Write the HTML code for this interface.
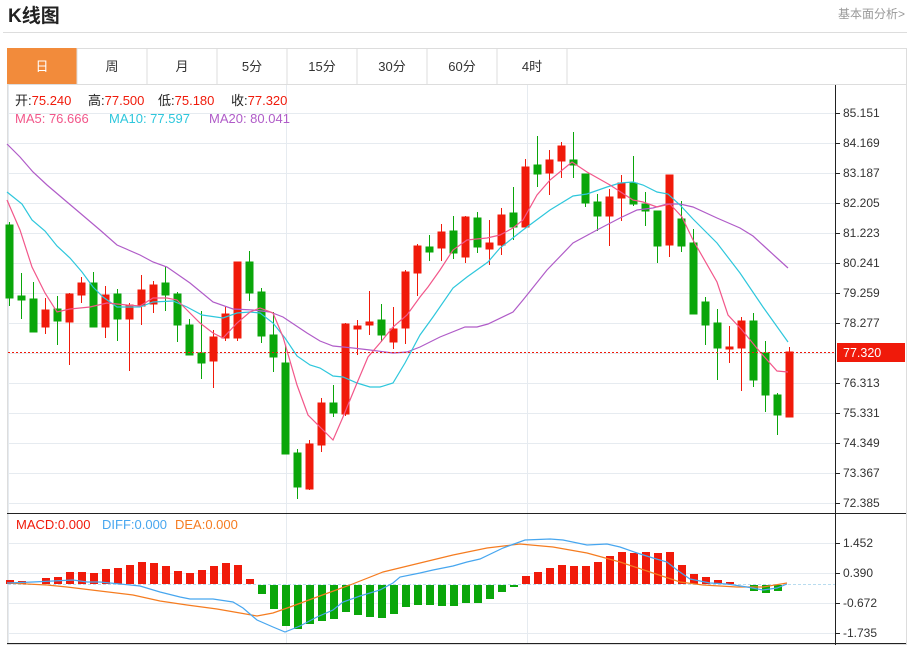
<!DOCTYPE html>
<html><head><meta charset="utf-8"><style>
body{margin:0;width:913px;height:645px;background:#fff;overflow:hidden;font-family:"Liberation Sans","Noto Sans CJK SC",sans-serif;}
.abs{position:absolute}
</style></head><body>
<div class="abs" style="left:8px;top:1px;font-size:19px;font-weight:bold;color:#222;">K线图</div>
<div class="abs" style="left:838px;top:5px;font-size:12px;color:#999;">基本面分析&gt;</div>
<div class="abs" style="left:3px;top:32px;width:904px;height:1px;background:#ddd;"></div>
<svg class="abs" style="left:0;top:0" width="913" height="645" xmlns="http://www.w3.org/2000/svg" font-family="Liberation Sans, Noto Sans CJK SC, sans-serif">
<rect x="7.5" y="48.5" width="899" height="596" fill="none" stroke="#ddd"/>
<rect x="7" y="48" width="70" height="36" fill="#f28b3b"/>
<g stroke="#ddd" shape-rendering="crispEdges">
<line x1="77" y1="48" x2="77" y2="84"/><line x1="147" y1="48" x2="147" y2="84"/><line x1="217" y1="48" x2="217" y2="84"/><line x1="287" y1="48" x2="287" y2="84"/><line x1="357" y1="48" x2="357" y2="84"/><line x1="427" y1="48" x2="427" y2="84"/><line x1="497" y1="48" x2="497" y2="84"/><line x1="567" y1="48" x2="567" y2="84"/>
<line x1="7" y1="84.5" x2="907" y2="84.5"/>
</g>
<g font-size="13" text-anchor="middle" fill="#333">
<text x="42" y="71" fill="#fff">日</text><text x="112" y="71">周</text><text x="182" y="71">月</text><text x="252" y="71">5分</text><text x="322" y="71">15分</text><text x="392" y="71">30分</text><text x="462" y="71">60分</text><text x="532" y="71">4时</text>
</g>
<g stroke="#e6ebf0" shape-rendering="crispEdges">
<line x1="8" y1="113.5" x2="835" y2="113.5"/><line x1="8" y1="143.5" x2="835" y2="143.5"/><line x1="8" y1="173.5" x2="835" y2="173.5"/><line x1="8" y1="203.5" x2="835" y2="203.5"/><line x1="8" y1="233.5" x2="835" y2="233.5"/><line x1="8" y1="263.5" x2="835" y2="263.5"/><line x1="8" y1="293.5" x2="835" y2="293.5"/><line x1="8" y1="323.5" x2="835" y2="323.5"/><line x1="8" y1="353.5" x2="835" y2="353.5"/><line x1="8" y1="383.5" x2="835" y2="383.5"/><line x1="8" y1="413.5" x2="835" y2="413.5"/><line x1="8" y1="443.5" x2="835" y2="443.5"/><line x1="8" y1="473.5" x2="835" y2="473.5"/><line x1="8" y1="503.5" x2="835" y2="503.5"/>
<line x1="8" y1="543.5" x2="835" y2="543.5"/><line x1="8" y1="573.5" x2="835" y2="573.5"/><line x1="8" y1="603.5" x2="835" y2="603.5"/><line x1="8" y1="633.5" x2="835" y2="633.5"/>
<line x1="8.5" y1="85" x2="8.5" y2="643"/><line x1="286.5" y1="85" x2="286.5" y2="643"/><line x1="527.5" y1="85" x2="527.5" y2="643"/>
</g>
<g stroke="#222" shape-rendering="crispEdges">
<line x1="835.5" y1="85" x2="835.5" y2="645"/>
<line x1="7" y1="513.5" x2="906" y2="513.5"/>
<line x1="7" y1="643.5" x2="906" y2="643.5"/>
</g>
<g font-size="12" fill="#333">
<text x="843" y="117">85.151</text><text x="843" y="147">84.169</text><text x="843" y="177">83.187</text><text x="843" y="207">82.205</text><text x="843" y="237">81.223</text><text x="843" y="267">80.241</text><text x="843" y="297">79.259</text><text x="843" y="327">78.277</text><text x="843" y="387">76.313</text><text x="843" y="417">75.331</text><text x="843" y="447">74.349</text><text x="843" y="477">73.367</text><text x="843" y="507">72.385</text>
<text x="843" y="547">1.452</text><text x="843" y="577">0.390</text><text x="843" y="607">-0.672</text><text x="843" y="637">-1.735</text>
</g>
<g stroke="#222" shape-rendering="crispEdges">
<line x1="836" y1="113.5" x2="840" y2="113.5"/><line x1="836" y1="143.5" x2="840" y2="143.5"/><line x1="836" y1="173.5" x2="840" y2="173.5"/><line x1="836" y1="203.5" x2="840" y2="203.5"/><line x1="836" y1="233.5" x2="840" y2="233.5"/><line x1="836" y1="263.5" x2="840" y2="263.5"/><line x1="836" y1="293.5" x2="840" y2="293.5"/><line x1="836" y1="323.5" x2="840" y2="323.5"/><line x1="836" y1="383.5" x2="840" y2="383.5"/><line x1="836" y1="413.5" x2="840" y2="413.5"/><line x1="836" y1="443.5" x2="840" y2="443.5"/><line x1="836" y1="473.5" x2="840" y2="473.5"/><line x1="836" y1="503.5" x2="840" y2="503.5"/>
<line x1="836" y1="543.5" x2="840" y2="543.5"/><line x1="836" y1="573.5" x2="840" y2="573.5"/><line x1="836" y1="603.5" x2="840" y2="603.5"/><line x1="836" y1="633.5" x2="840" y2="633.5"/>
</g>
<g font-size="13">
<text y="105" fill="#222"><tspan x="15">开:</tspan><tspan fill="#f01a0a">75.240</tspan><tspan x="88">高:</tspan><tspan fill="#f01a0a">77.500</tspan><tspan x="158">低:</tspan><tspan fill="#f01a0a">75.180</tspan><tspan x="231">收:</tspan><tspan fill="#f01a0a">77.320</tspan></text>
<text y="123"><tspan x="15" fill="#f2578a">MA5: 76.666</tspan><tspan x="109" fill="#2ec7dc">MA10: 77.597</tspan><tspan x="209" fill="#b05cc8">MA20: 80.041</tspan></text>
<text y="529"><tspan x="16" fill="#f01a0a">MACD:0.000</tspan><tspan x="102" fill="#47a6ef">DIFF:0.000</tspan><tspan x="175" fill="#f57c20">DEA:0.000</tspan></text>
</g>
<g fill="#0aa60a" stroke="#0aa60a" shape-rendering="crispEdges">
<line x1="9.5" y1="222" x2="9.5" y2="306"/><rect x="6" y="225" width="7" height="73"/>
<line x1="21.5" y1="273" x2="21.5" y2="319"/><rect x="18" y="296" width="7" height="4"/>
<line x1="33.5" y1="282" x2="33.5" y2="332"/><rect x="30" y="299" width="7" height="33"/>
<line x1="57.5" y1="296" x2="57.5" y2="345"/><rect x="54" y="309" width="7" height="12"/>
<line x1="93.5" y1="272" x2="93.5" y2="327"/><rect x="90" y="283" width="7" height="44"/>
<line x1="117.5" y1="289" x2="117.5" y2="341"/><rect x="114" y="294" width="7" height="25"/>
<line x1="165.5" y1="267" x2="165.5" y2="311"/><rect x="162" y="283" width="7" height="12"/>
<line x1="177.5" y1="292" x2="177.5" y2="342"/><rect x="174" y="294" width="7" height="31"/>
<line x1="189.5" y1="319" x2="189.5" y2="355"/><rect x="186" y="325" width="7" height="30"/>
<line x1="201.5" y1="311" x2="201.5" y2="379"/><rect x="198" y="353" width="7" height="10"/>
<line x1="249.5" y1="251" x2="249.5" y2="301"/><rect x="246" y="262" width="7" height="31"/>
<line x1="261.5" y1="288" x2="261.5" y2="343"/><rect x="258" y="292" width="7" height="44"/>
<line x1="273.5" y1="312" x2="273.5" y2="372"/><rect x="270" y="335" width="7" height="22"/>
<line x1="285.5" y1="346" x2="285.5" y2="454"/><rect x="282" y="363" width="7" height="91"/>
<line x1="297.5" y1="449" x2="297.5" y2="499"/><rect x="294" y="453" width="7" height="34"/>
<line x1="333.5" y1="385" x2="333.5" y2="417"/><rect x="330" y="403" width="7" height="10"/>
<line x1="381.5" y1="304" x2="381.5" y2="342"/><rect x="378" y="320" width="7" height="15"/>
<line x1="429.5" y1="235" x2="429.5" y2="261"/><rect x="426" y="247" width="7" height="5"/>
<line x1="453.5" y1="216" x2="453.5" y2="259"/><rect x="450" y="231" width="7" height="22"/>
<line x1="477.5" y1="212" x2="477.5" y2="253"/><rect x="474" y="218" width="7" height="29"/>
<line x1="513.5" y1="187" x2="513.5" y2="240"/><rect x="510" y="213" width="7" height="14"/>
<line x1="537.5" y1="136" x2="537.5" y2="187"/><rect x="534" y="165" width="7" height="9"/>
<line x1="573.5" y1="132" x2="573.5" y2="178"/><rect x="570" y="160" width="7" height="5"/>
<line x1="585.5" y1="174" x2="585.5" y2="207"/><rect x="582" y="174" width="7" height="29"/>
<line x1="597.5" y1="194" x2="597.5" y2="231"/><rect x="594" y="202" width="7" height="14"/>
<line x1="633.5" y1="156" x2="633.5" y2="206"/><rect x="630" y="183" width="7" height="21"/>
<line x1="645.5" y1="192" x2="645.5" y2="226"/><rect x="642" y="204" width="7" height="7"/>
<line x1="657.5" y1="211" x2="657.5" y2="263"/><rect x="654" y="211" width="7" height="35"/>
<line x1="681.5" y1="201" x2="681.5" y2="252"/><rect x="678" y="219" width="7" height="27"/>
<line x1="693.5" y1="229" x2="693.5" y2="314"/><rect x="690" y="243" width="7" height="71"/>
<line x1="705.5" y1="297" x2="705.5" y2="345"/><rect x="702" y="302" width="7" height="23"/>
<line x1="717.5" y1="309" x2="717.5" y2="380"/><rect x="714" y="323" width="7" height="25"/>
<line x1="753.5" y1="313" x2="753.5" y2="387"/><rect x="750" y="321" width="7" height="59"/>
<line x1="765.5" y1="341" x2="765.5" y2="412"/><rect x="762" y="353" width="7" height="42"/>
<line x1="777.5" y1="393" x2="777.5" y2="435"/><rect x="774" y="395" width="7" height="20"/>
</g>
<g fill="#f01a0a" stroke="#f01a0a" shape-rendering="crispEdges">
<line x1="45.5" y1="298" x2="45.5" y2="334"/><rect x="42" y="310" width="7" height="17"/>
<line x1="69.5" y1="293" x2="69.5" y2="365"/><rect x="66" y="294" width="7" height="28"/>
<line x1="81.5" y1="277" x2="81.5" y2="303"/><rect x="78" y="283" width="7" height="12"/>
<line x1="105.5" y1="286" x2="105.5" y2="338"/><rect x="102" y="295" width="7" height="32"/>
<line x1="129.5" y1="303" x2="129.5" y2="371"/><rect x="126" y="305" width="7" height="14"/>
<line x1="141.5" y1="275" x2="141.5" y2="325"/><rect x="138" y="290" width="7" height="16"/>
<line x1="153.5" y1="281" x2="153.5" y2="313"/><rect x="150" y="285" width="7" height="19"/>
<line x1="213.5" y1="330" x2="213.5" y2="388"/><rect x="210" y="337" width="7" height="24"/>
<line x1="225.5" y1="307" x2="225.5" y2="341"/><rect x="222" y="314" width="7" height="24"/>
<line x1="237.5" y1="262" x2="237.5" y2="341"/><rect x="234" y="262" width="7" height="76"/>
<line x1="309.5" y1="440" x2="309.5" y2="490"/><rect x="306" y="444" width="7" height="45"/>
<line x1="321.5" y1="398" x2="321.5" y2="452"/><rect x="318" y="403" width="7" height="42"/>
<line x1="345.5" y1="323" x2="345.5" y2="416"/><rect x="342" y="324" width="7" height="90"/>
<line x1="357.5" y1="320" x2="357.5" y2="355"/><rect x="354" y="326" width="7" height="3"/>
<line x1="369.5" y1="291" x2="369.5" y2="335"/><rect x="366" y="322" width="7" height="3"/>
<line x1="393.5" y1="307" x2="393.5" y2="349"/><rect x="390" y="329" width="7" height="13"/>
<line x1="405.5" y1="270" x2="405.5" y2="344"/><rect x="402" y="272" width="7" height="56"/>
<line x1="417.5" y1="244" x2="417.5" y2="296"/><rect x="414" y="246" width="7" height="27"/>
<line x1="441.5" y1="224" x2="441.5" y2="261"/><rect x="438" y="232" width="7" height="16"/>
<line x1="465.5" y1="216" x2="465.5" y2="263"/><rect x="462" y="217" width="7" height="40"/>
<line x1="489.5" y1="220" x2="489.5" y2="265"/><rect x="486" y="243" width="7" height="6"/>
<line x1="501.5" y1="208" x2="501.5" y2="255"/><rect x="498" y="215" width="7" height="30"/>
<line x1="525.5" y1="159" x2="525.5" y2="227"/><rect x="522" y="167" width="7" height="60"/>
<line x1="549.5" y1="150" x2="549.5" y2="195"/><rect x="546" y="160" width="7" height="13"/>
<line x1="561.5" y1="142" x2="561.5" y2="178"/><rect x="558" y="146" width="7" height="15"/>
<line x1="609.5" y1="189" x2="609.5" y2="246"/><rect x="606" y="197" width="7" height="19"/>
<line x1="621.5" y1="175" x2="621.5" y2="221"/><rect x="618" y="183" width="7" height="15"/>
<line x1="669.5" y1="175" x2="669.5" y2="257"/><rect x="666" y="175" width="7" height="70"/>
<line x1="729.5" y1="326" x2="729.5" y2="363"/><rect x="726" y="347" width="7" height="2"/>
<line x1="741.5" y1="317" x2="741.5" y2="391"/><rect x="738" y="321" width="7" height="27"/>
<line x1="789.5" y1="347" x2="789.5" y2="417"/><rect x="786" y="352" width="7" height="65"/>
</g>
<g fill="none" stroke-width="1.2">
<polyline stroke="#b05cc8" points="7,144 20,157 33,172 47,185 67,202 80,213 100,230 117,245 140,255 153,262 167,267 190,283 213,302 233,309 253,310 270,312 283,317 307,333 320,341 333,346 353,348 370,350 393,353 407,352 420,347 440,337 465,327 477,327 488,324 513,312 523,300 547,270 573,243 597,230 620,218 637,210 653,208 667,204 680,204 693,207 717,218 740,228 753,236 777,258 788,268"/>
<polyline stroke="#2ec7dc" points="7,192 22,204 32,220 45,231 57,246 70,258 82,272 93,287 103,297 117,307 140,307 153,302 173,301 187,307 202,315 223,318 237,313 250,312 260,313 273,323 285,338 297,356 310,365 320,368 333,376 343,377 357,383 370,387 380,387 393,383 405,363 420,335 433,317 453,288 467,277 488,262 500,248 523,230 550,210 573,196 587,194 607,187 620,183 633,182 643,185 657,192 668,194 680,205 693,219 717,243 740,273 763,307 788,342"/>
<polyline stroke="#f2578a" points="7,200 20,230 32,267 45,293 57,312 70,309 90,307 107,303 127,305 140,306 153,298 167,298 177,300 200,323 213,333 223,338 237,323 250,312 260,308 273,313 283,337 297,385 308,415 333,440 343,417 357,383 368,357 380,343 393,327 407,315 420,297 428,287 440,270 453,250 467,240 487,238 500,235 513,228 523,220 537,195 550,180 572,162 587,172 610,185 633,200 643,202 657,207 670,204 682,217 693,240 717,282 728,315 742,330 760,352 777,371 788,372"/>
</g>
<line x1="8" y1="352.5" x2="835" y2="352.5" stroke="#f01a0a" stroke-dasharray="2,2" stroke-width="1"/>
<rect x="837" y="343" width="68" height="19" fill="#f01a0a"/>
<text x="843" y="357" font-size="12.5" fill="#fff">77.320</text>
<line x1="8" y1="584.5" x2="835" y2="584.5" stroke="#b8dcef" stroke-dasharray="3,2"/>
<g fill="#f01a0a" shape-rendering="crispEdges">
<rect x="6" y="580" width="8" height="4"/><rect x="18" y="581" width="8" height="3"/><rect x="42" y="578" width="8" height="6"/><rect x="54" y="577" width="8" height="7"/><rect x="66" y="572" width="8" height="12"/><rect x="78" y="572" width="8" height="12"/><rect x="90" y="573" width="8" height="11"/><rect x="102" y="569" width="8" height="15"/><rect x="114" y="568" width="8" height="16"/><rect x="126" y="565" width="8" height="19"/><rect x="138" y="562" width="8" height="22"/><rect x="150" y="563" width="8" height="21"/><rect x="162" y="566" width="8" height="18"/><rect x="174" y="571" width="8" height="13"/><rect x="186" y="573" width="8" height="11"/><rect x="198" y="570" width="8" height="14"/><rect x="210" y="566" width="8" height="18"/><rect x="222" y="563" width="8" height="21"/><rect x="234" y="565" width="8" height="19"/><rect x="246" y="579" width="8" height="5"/>
<rect x="522" y="576" width="8" height="8"/><rect x="534" y="572" width="8" height="12"/><rect x="546" y="568" width="8" height="16"/><rect x="558" y="565" width="8" height="19"/><rect x="570" y="566" width="8" height="18"/><rect x="582" y="566" width="8" height="18"/><rect x="594" y="562" width="8" height="22"/><rect x="606" y="556" width="8" height="28"/><rect x="618" y="552" width="8" height="32"/><rect x="630" y="553" width="8" height="31"/><rect x="642" y="552" width="8" height="32"/><rect x="654" y="553" width="8" height="31"/><rect x="666" y="552" width="8" height="32"/><rect x="678" y="565" width="8" height="19"/><rect x="690" y="574" width="8" height="10"/><rect x="702" y="577" width="8" height="7"/><rect x="714" y="580" width="8" height="4"/><rect x="726" y="582" width="8" height="2"/>
</g>
<g fill="#0aa60a" shape-rendering="crispEdges">
<rect x="258" y="585" width="8" height="9"/><rect x="270" y="585" width="8" height="24"/><rect x="282" y="585" width="8" height="41"/><rect x="294" y="585" width="8" height="44"/><rect x="306" y="585" width="8" height="39"/><rect x="318" y="585" width="8" height="36"/><rect x="330" y="585" width="8" height="34"/><rect x="342" y="585" width="8" height="27"/><rect x="354" y="585" width="8" height="30"/><rect x="366" y="585" width="8" height="32"/><rect x="378" y="585" width="8" height="33"/><rect x="390" y="585" width="8" height="29"/><rect x="402" y="585" width="8" height="22"/><rect x="414" y="585" width="8" height="20"/><rect x="426" y="585" width="8" height="20"/><rect x="438" y="585" width="8" height="21"/><rect x="450" y="585" width="8" height="21"/><rect x="462" y="585" width="8" height="18"/><rect x="474" y="585" width="8" height="18"/><rect x="486" y="585" width="8" height="14"/><rect x="498" y="585" width="8" height="7"/><rect x="510" y="585" width="8" height="2"/>
<rect x="750" y="585" width="8" height="6"/><rect x="762" y="585" width="8" height="8"/><rect x="774" y="585" width="8" height="6"/>
</g>
<g fill="none" stroke-width="1.2">
<polyline stroke="#f57c20" points="7,583 47,585 67,587 100,591 133,595 160,601 187,605 217,609 240,613 257,616 273,613 290,607 317,597 350,585 383,572 420,563 453,555 487,548 520,544 553,547 587,553 620,562 653,573 680,582 703,585 737,587 763,587 787,583"/>
<polyline stroke="#47a6ef" points="7,583 33,582 53,581 73,580 87,582 100,582 120,584 140,586 160,592 180,597 190,599 213,599 233,602 243,608 257,620 273,627 285,632 300,626 317,617 333,610 343,602 360,596 380,590 393,583 400,577 420,573 433,570 453,566 467,562 480,559 503,548 525,540 550,539 563,540 587,545 607,544 620,547 637,553 653,558 667,562 677,570 690,579 710,583 727,584 747,587 763,590 777,588 787,584"/>
</g>
</svg>
</body></html>
